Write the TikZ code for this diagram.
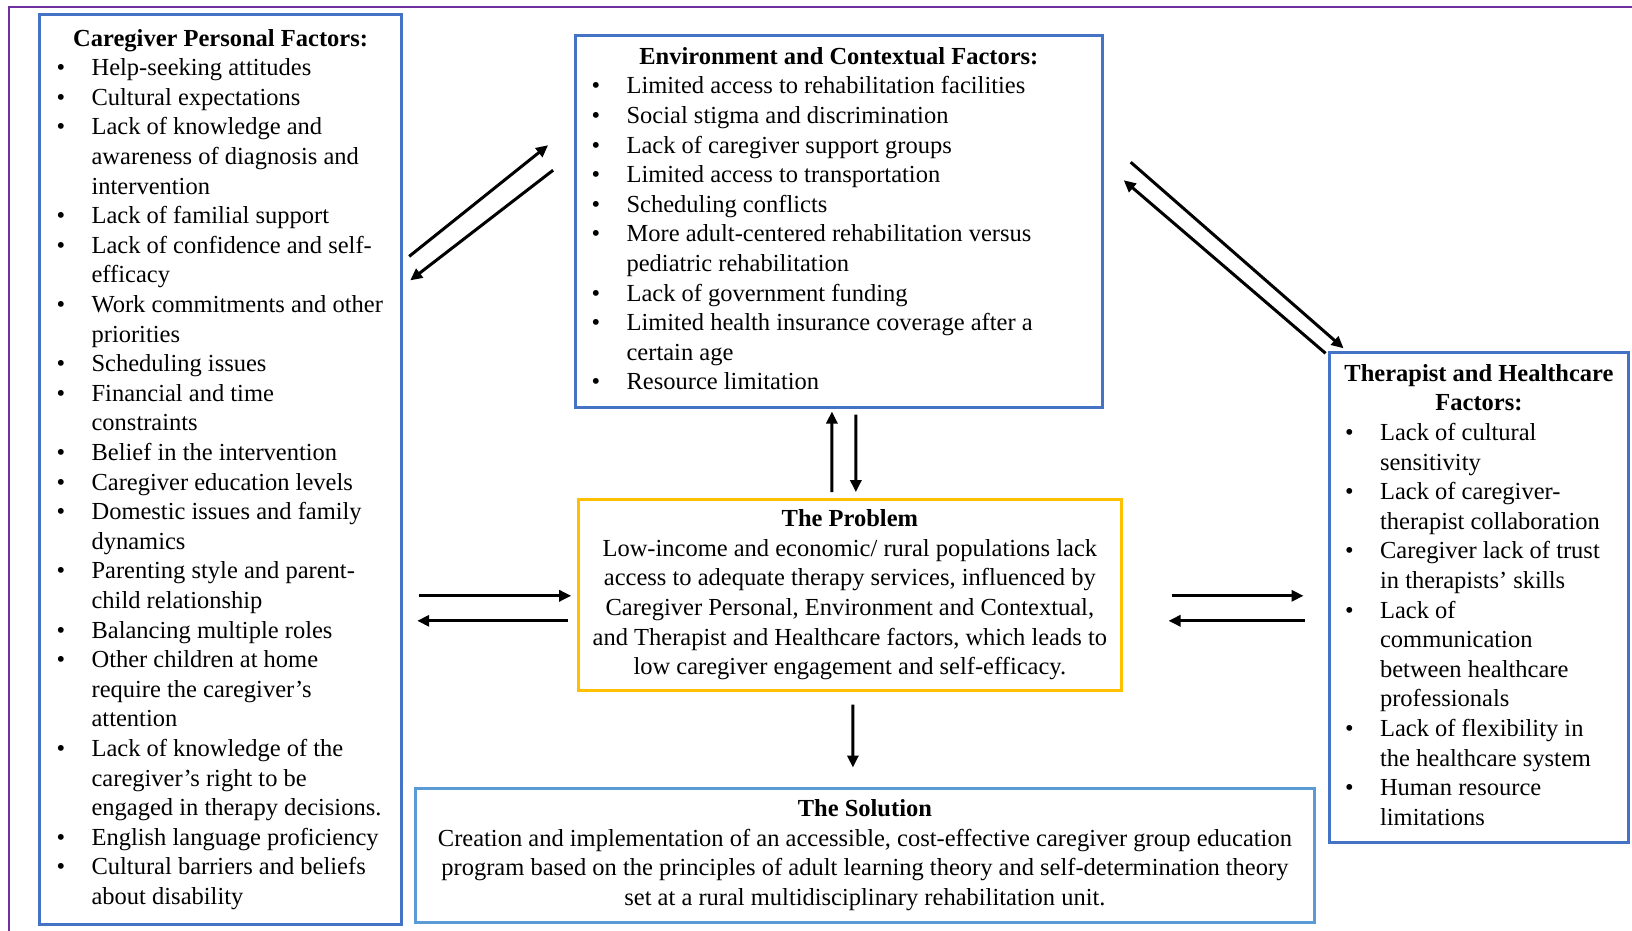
\documentclass[tikz,border=0pt]{standalone}
\usepackage{fontspec}
\setmainfont{Liberation Serif}
\usepackage{array}
\usetikzlibrary{arrows.meta,positioning,calc}
\definecolor{factorblue}{HTML}{4472C4}
\definecolor{problemgold}{HTML}{FFC000}
\definecolor{solutionblue}{HTML}{5B9BD5}
\definecolor{framepurple}{HTML}{7030A0}
\newcommand{\boxtitle}[2]{\multicolumn{2}{@{}c@{}}{\makebox[#1]{\bfseries #2}}}

\begin{document}
\begin{tikzpicture}[
  x=1pt, y=-1pt,
  box/.style={draw,line width=3pt,inner sep=0pt,font=\fontsize{24.5}{29.6}\selectfont},
  factor/.style={box,draw=factorblue},
  problem/.style={box,draw=problemgold,align=center},
  solution/.style={box,draw=solutionblue,align=center},
  arr/.style={-{Triangle[length=12pt,width=11pt]},line width=3pt}
]
\useasboundingbox (0,0) rectangle (1632,931);
\draw[framepurple,line width=2.5pt] (9,931) |- (1632,7);

\node[factor,minimum width=362.2pt,minimum height=909.6pt] (cg) at (220.6,469.4) {%
  \begin{tabular}{@{}p{35pt}@{}l@{}}
  \boxtitle{328pt}{Caregiver Personal Factors:}\\
  \textbullet & Help-seeking attitudes\\
  \textbullet & Cultural expectations\\
  \textbullet & Lack of knowledge and\\
   & awareness of diagnosis and\\
   & intervention\\
  \textbullet & Lack of familial support\\
  \textbullet & Lack of confidence and self-\\
   & efficacy\\
  \textbullet & Work commitments and other\\
   & priorities\\
  \textbullet & Scheduling issues\\
  \textbullet & Financial and time\\
   & constraints\\
  \textbullet & Belief in the intervention\\
  \textbullet & Caregiver education levels\\
  \textbullet & Domestic issues and family\\
   & dynamics\\
  \textbullet & Parenting style and parent-\\
   & child relationship\\
  \textbullet & Balancing multiple roles\\
  \textbullet & Other children at home\\
   & require the caregiver’s\\
   & attention\\
  \textbullet & Lack of knowledge of the\\
   & caregiver’s right to be\\
   & engaged in therapy decisions.\\
  \textbullet & English language proficiency\\
  \textbullet & Cultural barriers and beliefs\\
   & about disability
  \end{tabular}};

\node[factor,minimum width=526.6pt,minimum height=371.6pt] (env) at (838.9,221.2) {%
  \begin{tabular}{@{}p{35pt}@{}l@{}}
  \boxtitle{494.6pt}{Environment and Contextual Factors:}\\
  \textbullet & Limited access to rehabilitation facilities\\
  \textbullet & Social stigma and discrimination\\
  \textbullet & Lack of caregiver support groups\\
  \textbullet & Limited access to transportation\\
  \textbullet & Scheduling conflicts\\
  \textbullet & More adult-centered rehabilitation versus\\
   & pediatric rehabilitation\\
  \textbullet & Lack of government funding\\
  \textbullet & Limited health insurance coverage after a\\
   & certain age\\
  \textbullet & Resource limitation
  \end{tabular}};

\node[factor,minimum width=299.9pt,minimum height=489.2pt] (th) at (1479,597.4) {%
  \begin{tabular}{@{}p{35pt}@{}l@{}}
  \boxtitle{267.9pt}{Therapist and Healthcare}\\
  \boxtitle{267.9pt}{Factors:}\\
  \textbullet & Lack of cultural\\
   & sensitivity\\
  \textbullet & Lack of caregiver-\\
   & therapist collaboration\\
  \textbullet & Caregiver lack of trust\\
   & in therapists’ skills\\
  \textbullet & Lack of\\
   & communication\\
   & between healthcare\\
   & professionals\\
  \textbullet & Lack of flexibility in\\
   & the healthcare system\\
  \textbullet & Human resource\\
   & limitations
  \end{tabular}};

\node[problem,minimum width=542.3pt,minimum height=190.4pt] (pb) at (849.85,594.8)
  {\textbf{The Problem}\\
   Low-income and economic/ rural populations lack\\
   access to adequate therapy services, influenced by\\
   Caregiver Personal, Environment and Contextual,\\
   and Therapist and Healthcare factors, which leads to\\
   low caregiver engagement and self-efficacy.};

\node[solution,minimum width=899.2pt,minimum height=134pt] (sol) at (864.9,855)
  {\textbf{The Solution}\\
   Creation and implementation of an accessible, cost-effective caregiver group education\\
   program based on the principles of adult learning theory and self-determination theory\\
   set at a rural multidisciplinary rehabilitation unit.};

% caregiver <-> environment
\draw[arr] ($(cg.east)+(6,-213)$) -- ($(env.west)+(-26,-76)$);
\draw[arr] ($(env.west)+(-21,-51)$) -- ($(cg.east)+(7,-189)$);
% environment <-> therapist
\draw[arr] ($(env.east)+(27,-59)$) -- ($(th.north west)+(16,-3)$);
\draw[arr] ($(th.north west)+(-2,2)$) -- ($(env.east)+(20,-41)$);
% problem <-> environment
\draw[arr] ($(pb.north)+(-18,-6)$) -- ($(env.south)+(-7,3)$);
\draw[arr] ($(env.south)+(17,6)$) -- ($(pb.north)+(6,-6)$);
% caregiver <-> problem
\draw[arr] ($(cg.east |- pb.west)+(16,1)$) -- ($(pb.west)+(-6,1)$);
\draw[arr] ($(pb.west)+(-9,26)$) -- ($(cg.east |- pb.west)+(14,26)$);
% problem <-> therapist
\draw[arr] ($(pb.east)+(49,1)$) -- ($(th.west |- pb.east)+(-24,1)$);
\draw[arr] ($(th.west |- pb.east)+(-23,26)$) -- ($(pb.east)+(46,26)$);
% problem -> solution
\draw[arr] ($(pb.south)+(3,13)$) -- ($(sol.north)+(-12,-19)$);
\end{tikzpicture}
\end{document}
